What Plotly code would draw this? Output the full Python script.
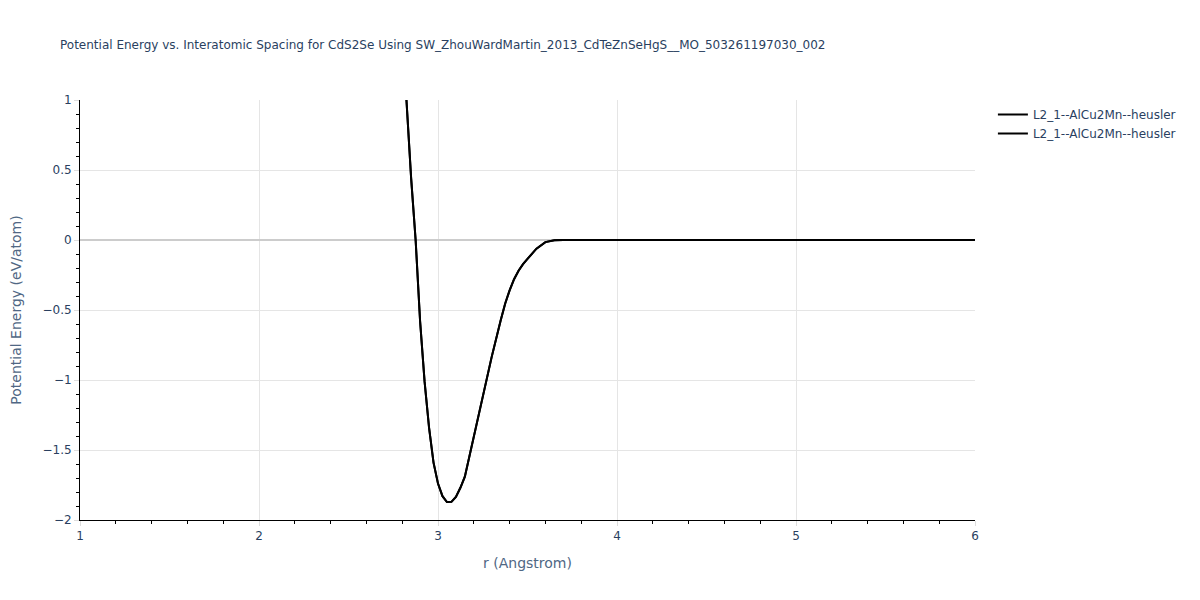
import plotly.graph_objects as go

r_values = [2.80, 2.82, 2.85, 2.875, 2.90, 2.925, 2.95, 2.975, 3.00, 3.025, 3.05, 3.075,
            3.10, 3.125, 3.15, 3.20, 3.25, 3.30, 3.35, 3.375, 3.40, 3.425, 3.45, 3.475,
            3.50, 3.55, 3.60, 3.65, 3.70, 3.80, 4.00, 4.50, 5.00, 5.50, 6.00]
energy_values = [1.45, 1.08, 0.44, 0.0, -0.58, -1.01, -1.34, -1.59, -1.74, -1.83, -1.872, -1.87,
                 -1.835, -1.77, -1.69, -1.40, -1.106, -0.835, -0.575, -0.455, -0.36, -0.28,
                 -0.22, -0.172, -0.135, -0.062, -0.015, -0.002, 0.0, 0.0, 0.0, 0.0, 0.0, 0.0, 0.0]

series_names = ["L2_1--AlCu2Mn--heusler", "L2_1--AlCu2Mn--heusler"]

FONT = "Verdana, DejaVu Sans, sans-serif"
TXT = "#2a3f5f"
AXT = "#506784"

fig = go.Figure()
for name in series_names:
    fig.add_trace(go.Scatter(x=r_values, y=energy_values, mode="lines", name=name,
                             line=dict(color="black", width=2)))

axis_common = dict(showline=True, linecolor="black", linewidth=1, ticks="outside",
                   tickcolor="#dddddd", gridcolor="#e5e5e5", showgrid=True,
                   tickfont=dict(size=12, color=TXT, family=FONT))

fig.update_layout(
    template="plotly_white",
    width=1200, height=600,
    margin=dict(l=72, r=233, t=92, b=88),
    font=dict(family=FONT, color=TXT),
    title=dict(text="Potential Energy vs. Interatomic Spacing for CdS2Se Using SW_ZhouWardMartin_2013_CdTeZnSeHgS__MO_503261197030_002",
               x=52 / 1200, xanchor="left", y=1 - 37 / 600, yanchor="middle",
               font=dict(size=12, color=TXT, family=FONT)),
    legend=dict(font=dict(size=12, color=TXT, family=FONT)),
    plot_bgcolor="white",
)
fig.update_xaxes(range=[1, 6], dtick=1,
                 title=dict(text="r (Angstrom)", font=dict(size=14, family=FONT, color=AXT)),
                 minor=dict(ticks="outside", dtick=0.2, tickcolor="black", showgrid=False),
                 zeroline=False, **axis_common)
fig.update_yaxes(range=[-2, 1], dtick=0.5, automargin=False,
                 title=dict(text="Potential Energy (eV/atom)", standoff=22,
                            font=dict(size=14, family=FONT, color=AXT)),
                 minor=dict(ticks="outside", dtick=0.1, tickcolor="black", showgrid=False),
                 zeroline=True, zerolinecolor="#cccccc", zerolinewidth=2, **axis_common)

fig.write_html("out.html")
